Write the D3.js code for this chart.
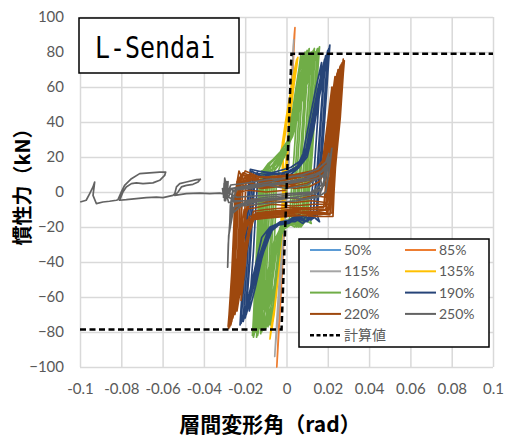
<!DOCTYPE html>
<html>
<head>
<meta charset="utf-8">
<script src="https://cdn.jsdelivr.net/npm/d3@7"></script>
<style>
  body { margin: 0; background: #fff; }
  svg text { font-family: Lato, "Noto Sans", sans-serif; }
</style>
</head>
<body>
<svg id="chart" width="510" height="439"></svg>
<script>
// ---- data (x: rad, y: kN) ----
var xTicks = [-0.1, -0.08, -0.06, -0.04, -0.02, 0, 0.02, 0.04, 0.06, 0.08, 0.1];
var xTickLabels = ['-0.1', '-0.08', '-0.06', '-0.04', '-0.02', '0', '0.02', '0.04', '0.06', '0.08', '0.1'];
var yTicks = [-100, -80, -60, -40, -20, 0, 20, 40, 60, 80, 100];

var seriesNames = ['50%', '85%', '115%', '135%', '160%', '190%', '220%', '250%'];
var seriesColors = ['#5B9BD5', '#ED7D31', '#A5A5A5', '#FFC000', '#70AD47', '#264478', '#9E480E', '#636363'];

var s50 = [[0, 0], [0.0006, 10], [0.0012, 22], [0.0009, 15], [0.0002, 2], [-0.0005, -10], [-0.0012, -22],
  [-0.0009, -15], [-0.0002, -2], [0, 0]];

var s85 = [[0, 0], [0.001, 25], [0.002, 50], [0.003, 75], [0.0038, 90], [0.0041, 94], [0.0036, 82], [0.002, 45],
  [0.0005, 8], [-0.001, -20], [-0.0025, -55], [-0.0038, -82], [-0.0047, -100], [-0.0042, -88], [-0.0028, -55],
  [-0.001, -15], [0, 0]];

var s115 = [[0, 0], [0.0012, 25], [0.0022, 50], [0.003, 72], [0.0035, 87], [0.0032, 80], [0.0025, 55], [0.001, 15],
  [-0.0008, -15], [-0.0025, -45], [-0.004, -70], [-0.0055, -90], [-0.0057, -94], [-0.005, -80], [-0.0035, -50],
  [-0.0015, -15], [0, 0]];

var s135 = [[0, 0], [-0.001, 10], [-0.002, 22], [-0.0015, 30], [0.0, 42], [0.002, 56], [0.004, 70], [0.0055, 77],
  [0.005, 72], [0.0035, 60], [0.002, 44], [0.0008, 26], [-0.0005, 5], [-0.0015, -15], [-0.003, -30], [-0.0045, -50],
  [-0.006, -66], [-0.0075, -80], [-0.008, -84], [-0.0075, -78], [-0.006, -62], [-0.0045, -44], [-0.003, -24],
  [-0.002, -5], [-0.0015, 12],
  [-0.0025, 24], [-0.001, 34], [0.001, 48], [0.003, 62], [0.0048, 74], [0.0042, 68], [0.0025, 52], [0.001, 32],
  [0.0, 12], [-0.001, -10], [-0.0025, -28], [-0.004, -46], [-0.0055, -64], [-0.007, -78], [-0.0066, -72],
  [-0.0052, -56], [-0.0038, -38], [-0.0025, -18], [-0.0015, 0], [-0.002, 15],
  [-0.0015, 26], [0.0, 38], [0.0015, 50], [0.0035, 66], [0.003, 60], [0.0015, 44], [0.0, 22], [-0.001, 0],
  [-0.002, -20], [-0.0035, -40], [-0.005, -58], [-0.0065, -74], [-0.006, -66], [-0.0045, -48], [-0.003, -28],
  [-0.0015, -8], [-0.002, 10],
  [-0.002, 28], [-0.0005, 40], [0.0015, 54], [0.0032, 66], [0.005, 76], [0.0045, 70], [0.0028, 56], [0.0012, 38],
  [-0.0002, 16], [-0.0012, -8], [-0.0028, -32], [-0.0045, -54], [-0.006, -70], [-0.0078, -82], [-0.0072, -74],
  [-0.0058, -58], [-0.0042, -40], [-0.0028, -20], [-0.0018, -2], [0, 0]];

var s160 = [[0, 0], [-0.004, 12], [-0.002, 18], [0.0, 24], [0.002, 38], [0.004, 55], [0.006, 70], [0.007, 79],
  [0.0065, 70], [0.005, 45], [0.0035, 18], [0.002, -5], [0.0015, -15], [0.0, -18], [-0.002, -20], [-0.003, -30],
  [-0.005, -50], [-0.0065, -65], [-0.008, -76], [-0.0075, -66], [-0.0065, -42], [-0.0055, -18], [-0.005, 2], [-0.006, 12],
  [-0.004, 15], [-0.001, 20], [0.001, 26], [0.003, 40], [0.006, 60], [0.009, 80], [0.0085, 72], [0.007, 46],
  [0.0055, 18], [0.004, -4], [0.0035, -16], [0.001, -17], [-0.002, -20], [-0.004, -26], [-0.006, -44], [-0.008, -62],
  [-0.010, -78], [-0.0095, -68], [-0.0085, -44], [-0.0075, -18], [-0.007, 4], [-0.008, 14],
  [-0.005, 17], [-0.002, 22], [0.001, 28], [0.004, 44], [0.008, 66], [0.011, 82], [0.0105, 74], [0.009, 48],
  [0.0075, 20], [0.006, -2], [0.0055, -15], [0.003, -19], [0.0, -17], [-0.003, -21], [-0.005, -28], [-0.008, -48],
  [-0.010, -64], [-0.012, -80], [-0.0115, -70], [-0.0105, -46], [-0.0095, -20], [-0.009, 2], [-0.010, 13],
  [-0.007, 15], [-0.004, 20], [0.0, 24], [0.003, 34], [0.006, 50], [0.010, 68], [0.013, 81], [0.0125, 72],
  [0.011, 46], [0.0095, 18], [0.008, -4], [0.0075, -16], [0.005, -20], [0.002, -16], [-0.001, -20], [-0.004, -24],
  [-0.007, -40], [-0.010, -58], [-0.014, -82], [-0.0135, -72], [-0.0125, -48], [-0.0115, -22], [-0.011, 0], [-0.0115, 12],
  [-0.009, 16], [-0.006, 19], [-0.002, 22], [0.002, 30], [0.006, 48], [0.010, 64], [0.013, 75], [0.015, 82],
  [0.0145, 74], [0.013, 48], [0.0115, 20], [0.010, -2], [0.0095, -14], [0.007, -18], [0.004, -15], [0.001, -19],
  [-0.003, -21], [-0.006, -28], [-0.009, -46], [-0.012, -62], [-0.016, -83], [-0.0155, -74], [-0.0145, -50],
  [-0.0135, -24], [-0.013, -2], [-0.012, 12],
  [-0.008, 14], [-0.005, 18], [-0.001, 23], [0.003, 32], [0.007, 50], [0.011, 66], [0.014, 76], [0.016, 83],
  [0.0155, 75], [0.014, 50], [0.0125, 22], [0.011, 0], [0.0105, -12], [0.012, -18], [0.009, -16], [0.006, -20],
  [0.003, -17], [0.0, -20], [-0.003, -22], [-0.007, -34], [-0.010, -52], [-0.013, -68], [-0.0165, -82], [-0.016, -72],
  [-0.015, -46], [-0.014, -20], [-0.0135, 0], [-0.012, 10],
  [-0.007, 13], [-0.003, 19], [0.0, 25], [0.004, 40], [0.008, 58], [0.011, 70], [0.014, 80], [0.0135, 72],
  [0.012, 46], [0.0105, 18], [0.009, -4], [0.0085, -15], [0.006, -19], [0.002, -18], [-0.002, -21], [-0.005, -30],
  [-0.008, -48], [-0.011, -62], [-0.015, -80], [-0.0145, -70], [-0.0135, -46], [-0.0125, -20], [-0.012, 2], [-0.011, 11],
  [-0.006, 16], [-0.003, 21], [0.001, 27], [0.005, 46], [0.009, 64], [0.012, 78], [0.0115, 70], [0.010, 44],
  [0.0085, 16], [0.007, -3], [0.0065, -14], [0.004, -18], [0.0, -16], [-0.003, -20], [-0.006, -32], [-0.009, -52],
  [-0.013, -78], [-0.0125, -68], [-0.0115, -42], [-0.0105, -16], [-0.010, 4], [-0.008, 12],
  [-0.005, 14], [-0.002, 20], [0.0005, 26], [0.003, 44], [0.006, 66], [0.008, 79], [0.0075, 70], [0.006, 44],
  [0.0045, 16], [0.003, -6], [0.0025, -16], [0.0, -19], [-0.002, -22], [-0.004, -34], [-0.006, -54], [-0.009, -77],
  [-0.0085, -66], [-0.0075, -40], [-0.0065, -14], [-0.006, 4], [-0.007, 13],
  [-0.006, 17], [-0.003, 21], [0.0, 26], [0.003, 40], [0.007, 64], [0.010, 81], [0.0095, 72], [0.008, 44],
  [0.0065, 16], [0.005, -4], [0.0045, -15], [0.002, -18], [-0.001, -21], [-0.004, -28], [-0.007, -50], [-0.009, -66],
  [-0.011, -79], [-0.0105, -68], [-0.0095, -42], [-0.0085, -16], [-0.008, 4], [-0.009, 14],
  [-0.007, 18], [-0.003, 23], [0.001, 30], [0.005, 50], [0.009, 70], [0.012, 80], [0.0115, 72], [0.010, 46],
  [0.0085, 18], [0.007, -2], [0.0065, -15], [0.004, -20], [0.001, -18], [-0.002, -22], [-0.005, -34], [-0.008, -54],
  [-0.0125, -81], [-0.012, -70], [-0.011, -44], [-0.010, -18], [-0.0095, 2], [-0.0105, 13],
  [-0.008, 16], [-0.004, 21], [0.0, 26], [0.004, 42], [0.008, 60], [0.012, 74], [0.015, 80], [0.0145, 72],
  [0.013, 46], [0.0115, 18], [0.010, -4], [0.0095, -16], [0.007, -20], [0.003, -18], [-0.001, -21], [-0.004, -26],
  [-0.008, -46], [-0.012, -66], [-0.0155, -80], [-0.015, -70], [-0.014, -44], [-0.013, -18], [-0.0125, 2], [-0.0115, 12],
  [-0.009, 15], [-0.005, 20], [-0.001, 24], [0.003, 38], [0.007, 58], [0.011, 74], [0.0135, 82], [0.013, 74],
  [0.0115, 48], [0.010, 20], [0.0085, -2], [0.008, -14], [0.0055, -19], [0.002, -17], [-0.002, -21], [-0.005, -28],
  [-0.009, -50], [-0.012, -68], [-0.0145, -83], [-0.014, -72], [-0.013, -46], [-0.012, -20], [-0.0115, 0],
  [-0.010, 10], [-0.004, 8], [0, 4]];

var s190 = [[0.0, 8], [0.006, 14], [0.010, 20], [0.013, 35], [0.016, 55], [0.019, 72], [0.021, 84], [0.0205, 76],
  [0.019, 50], [0.0175, 25], [0.016, 5], [0.015, -10], [0.013, -15], [0.011, -12], [0.008, -16], [0.004, -14],
  [0.0, -17], [-0.004, -18], [-0.008, -20], [-0.012, -26], [-0.015, -42], [-0.018, -58], [-0.022, -75],
  [-0.0215, -66], [-0.020, -42], [-0.019, -20], [-0.018, 0], [-0.017, 12], [-0.012, 9], [-0.006, 10],
  [0.002, 12], [0.007, 16], [0.010, 24], [0.013, 42], [0.016, 60], [0.019, 78], [0.0185, 70], [0.017, 45],
  [0.0155, 18], [0.014, 0], [0.013, -12], [0.010, -15], [0.006, -13], [0.002, -16], [-0.003, -17], [-0.008, -21],
  [-0.012, -34], [-0.016, -52], [-0.020, -72], [-0.0195, -62], [-0.018, -38], [-0.017, -16], [-0.016, 4],
  [-0.015, 10], [-0.008, 8],
  [0.0, 10], [0.005, 14], [0.008, 22], [0.011, 40], [0.014, 58], [0.017, 74], [0.0165, 66], [0.015, 40],
  [0.0135, 14], [0.012, -4], [0.0115, -14], [0.008, -18], [0.004, -15], [0.0, -18], [-0.005, -19], [-0.009, -24],
  [-0.012, -38], [-0.015, -54], [-0.018, -68], [-0.0175, -58], [-0.016, -34], [-0.015, -12], [-0.014, 6],
  [-0.010, 8], [-0.004, 9],
  [0.003, 13], [0.008, 17], [0.011, 26], [0.014, 45], [0.017, 64], [0.020, 81], [0.0195, 72], [0.018, 46],
  [0.0165, 20], [0.015, 0], [0.0145, -12], [0.016, -17], [0.013, -14], [0.009, -17], [0.005, -15], [0.001, -18],
  [-0.004, -19], [-0.009, -22], [-0.013, -36], [-0.017, -56], [-0.021, -74], [-0.0205, -64], [-0.019, -40],
  [-0.018, -18], [-0.017, 2], [-0.016, 11], [-0.010, 10], [-0.002, 11],
  [0.001, 12], [0.006, 15], [0.009, 22], [0.012, 40], [0.015, 58], [0.0185, 76], [0.018, 68], [0.0165, 42],
  [0.015, 16], [0.0135, -2], [0.013, -13], [0.010, -17], [0.006, -14], [0.002, -17], [-0.003, -18], [-0.007, -22],
  [-0.011, -34], [-0.015, -50], [-0.0195, -70], [-0.019, -60], [-0.0175, -36], [-0.0165, -14], [-0.0155, 5],
  [-0.014, 12], [-0.007, 11],
  [0.002, 14], [0.007, 18], [0.0105, 28], [0.0135, 46], [0.017, 66], [0.0205, 82], [0.020, 74], [0.0185, 48],
  [0.017, 22], [0.0155, 2], [0.015, -12], [0.012, -16], [0.008, -14], [0.004, -17], [-0.001, -17], [-0.006, -20],
  [-0.010, -28], [-0.014, -44], [-0.018, -60], [-0.0225, -76], [-0.022, -66], [-0.0205, -42], [-0.0195, -18],
  [-0.0185, 2], [-0.0175, 13], [-0.010, 11], [0, 9]];

var s220 = [[0.0, 2], [0.008, 7], [0.015, 11], [0.019, 16], [0.021, 30], [0.023, 48], [0.025, 62], [0.027, 74],
  [0.0265, 66], [0.025, 45], [0.0235, 22], [0.022, 3], [0.021, -10], [0.015, -11], [0.005, -12], [-0.005, -13],
  [-0.014, -14], [-0.019, -16], [-0.021, -28], [-0.024, -50], [-0.026, -65], [-0.028, -78], [-0.0275, -68],
  [-0.026, -42], [-0.025, -18], [-0.0245, 2], [-0.022, 10], [-0.015, 8], [-0.006, 9],
  [0.004, 10], [0.012, 12], [0.018, 15], [0.020, 28], [0.022, 45], [0.024, 60], [0.026, 72], [0.0255, 64],
  [0.024, 40], [0.0225, 15], [0.021, -2], [0.020, -12], [0.012, -13], [0.0, -14], [-0.010, -15], [-0.017, -16],
  [-0.020, -30], [-0.023, -52], [-0.025, -66], [-0.027, -76], [-0.0265, -66], [-0.025, -38], [-0.024, -12],
  [-0.023, 4], [-0.020, 12], [-0.014, 9], [-0.006, 8],
  [0.002, 9], [0.010, 11], [0.017, 13], [0.020, 22], [0.023, 42], [0.026, 62], [0.028, 75], [0.0275, 68],
  [0.026, 42], [0.024, 18], [0.0225, -2], [0.022, -12], [0.016, -13], [0.006, -12], [-0.004, -12], [-0.013, -13],
  [-0.018, -14], [-0.022, -32], [-0.025, -58], [-0.0275, -77], [-0.027, -68], [-0.0255, -40], [-0.0245, -14],
  [-0.024, 3], [-0.022, 8], [-0.012, 6], [-0.002, 7],
  [0.006, 9], [0.014, 11], [0.018, 14], [0.020, 30], [0.022, 48], [0.025, 70], [0.0245, 62], [0.023, 38],
  [0.0215, 12], [0.020, -4], [0.019, -10], [0.010, -10], [0.0, -11], [-0.010, -12], [-0.016, -13], [-0.019, -26],
  [-0.022, -48], [-0.026, -72], [-0.0255, -62], [-0.0245, -35], [-0.0235, -10], [-0.0225, 3], [-0.020, 9],
  [-0.012, 5], [-0.003, 5],
  [0.006, 6], [0.013, 9], [0.017, 12], [0.019, 26], [0.021, 44], [0.0235, 66], [0.023, 58], [0.0215, 30],
  [0.020, 6], [0.019, -8], [0.012, -9], [0.002, -10], [-0.008, -11], [-0.015, -12], [-0.018, -24], [-0.021, -46],
  [-0.024, -68], [-0.0235, -56], [-0.0225, -30], [-0.0215, -6], [-0.021, 6], [-0.016, 7], [-0.006, 4],
  [0.004, 6], [0.012, 8], [0.018, 11], [0.021, 24], [0.024, 46], [0.026, 62], [0.0275, 76], [0.027, 70],
  [0.0255, 46], [0.024, 20], [0.023, 0], [0.0225, -14], [0.014, -14], [0.004, -13], [-0.006, -14], [-0.015, -15],
  [-0.020, -18], [-0.023, -36], [-0.026, -60], [-0.0283, -77], [-0.0278, -70], [-0.0265, -46], [-0.0255, -20],
  [-0.025, -2], [-0.023, 12], [-0.021, 7], [-0.012, 3], [-0.004, 3],
  [0.001, 4], [0.009, 8], [0.016, 12], [0.0195, 20], [0.022, 38], [0.0245, 58], [0.0265, 73], [0.026, 64],
  [0.0245, 38], [0.023, 12], [0.0215, -6], [0.021, -13], [0.013, -12], [0.003, -11], [-0.007, -12], [-0.016, -14],
  [-0.0205, -22], [-0.0235, -44], [-0.0265, -74], [-0.026, -64], [-0.025, -36], [-0.0245, -10], [-0.024, 6],
  [-0.021, 11], [-0.013, 7], [-0.004, 6],
  [0.005, 8], [0.013, 10], [0.0175, 14], [0.0195, 24], [0.022, 46], [0.0245, 68], [0.024, 60], [0.0225, 34],
  [0.021, 8], [0.0195, -6], [0.0195, -12], [0.011, -11], [0.001, -12], [-0.009, -13], [-0.017, -15], [-0.0195, -28],
  [-0.022, -50], [-0.025, -70], [-0.0245, -60], [-0.0235, -32], [-0.0225, -8], [-0.022, 5], [-0.019, 10],
  [-0.010, 8], [-0.001, 9],
  [0.007, 10], [0.014, 12], [0.0175, 18], [0.0195, 36], [0.022, 60], [0.0215, 50], [0.020, 26], [0.019, 4],
  [0.018, -9], [0.010, -9], [0.0, -9], [-0.010, -10], [-0.016, -11], [-0.0185, -22], [-0.020, -42], [-0.022, -62],
  [-0.0215, -50], [-0.0205, -26], [-0.020, -4], [-0.0195, 8], [-0.012, 7], [-0.004, 4],
  [0.002, 3], [0.010, 5], [0.016, 8], [0.019, 14], [0.021, 32], [0.0235, 54], [0.0255, 70], [0.025, 62],
  [0.0235, 36], [0.022, 10], [0.0205, -2], [0.019, -6], [0.012, -5], [0.004, -6], [-0.006, -5], [-0.014, -7],
  [-0.019, -8], [-0.021, -20], [-0.0235, -42], [-0.0265, -73], [-0.026, -62], [-0.025, -34], [-0.0245, -8],
  [-0.024, 2], [-0.020, 4], [-0.012, 2], [-0.004, 3],
  [0.005, 5], [0.012, 7], [0.0175, 10], [0.020, 20], [0.0225, 42], [0.0268, 72], [0.0262, 64], [0.0248, 40],
  [0.0232, 14], [0.0215, -2], [0.0205, -7], [0.013, -7], [0.003, -8], [-0.007, -7], [-0.015, -9], [-0.0205, -10],
  [-0.0225, -26], [-0.025, -50], [-0.0272, -75], [-0.0267, -64], [-0.0255, -36], [-0.025, -10], [-0.0248, 1],
  [-0.022, 6], [-0.014, 4], [-0.006, 5],
  [0.004, 2], [0.011, 3], [0.016, 6], [0.0185, 12], [0.0205, 34], [0.0235, 64], [0.023, 55], [0.0215, 30],
  [0.020, 6], [0.019, -3], [0.013, -2], [0.006, -4], [-0.002, -3], [-0.010, -5], [-0.017, -4], [-0.0195, -12],
  [-0.0215, -34], [-0.0245, -66], [-0.024, -54], [-0.023, -28], [-0.0225, -6], [-0.023, 0], [-0.018, 1],
  [-0.010, 0], [0, 1]];

var s250 = [[-0.0999, -5.7], [-0.0970, -4.7], [-0.0953, -0.95], [-0.0937, 2.9], [-0.0929, 5.7], [-0.0937, -1.9],
  [-0.0921, -6.6], [-0.0889, -5.7], [-0.0857, -5.3], [-0.0824, -4.7], [-0.0816, -4.4], [-0.0800, 0], [-0.0784, 3.8],
  [-0.0751, 7.6], [-0.0711, 10.5], [-0.0663, 10.9], [-0.0614, 11.4], [-0.0585, 11.4], [-0.0590, 9.5], [-0.0614, 6.7],
  [-0.0647, 5.2], [-0.0695, 4.8], [-0.0727, 5.2], [-0.0751, 4.8], [-0.0776, 2.9], [-0.0792, 0], [-0.0808, -4.7],
  [-0.0776, -4.4], [-0.0727, -3.8], [-0.0679, -3.2], [-0.0630, -2.9], [-0.0598, -3.2], [-0.0550, -1.9],
  [-0.0541, -0.95], [-0.0533, 2.9], [-0.0517, 4.8], [-0.0485, 5.7], [-0.0436, 7.1], [-0.0417, 7.3], [-0.0428, 5.7],
  [-0.0453, 4.4], [-0.0485, 3.8], [-0.0509, 2.9], [-0.0525, 0], [-0.0541, -1.9], [-0.0485, -0.95], [-0.0420, -0.6],
  [-0.0372, -0.95], [-0.0323, -0.6], [-0.0299, -1.3],
  [-0.0305, -2], [-0.031, 2], [-0.0305, -1], [-0.0295, 3], [-0.0288, -2], [-0.0283, 6], [-0.0287, -3], [-0.029, 4],
  [-0.0295, -5], [-0.0299, 8], [-0.0305, -3], [-0.0302, 5], [-0.030, -5], [-0.0297, 7], [-0.0293, -4], [-0.029, 6],
  [-0.0285, 0],
  [-0.026, 2], [-0.02, 3], [-0.01, 4], [0, 2], [0.01, 4], [0.018, 10], [0.021, 18], [0.022, 25], [0.021, 15],
  [0.019, 0], [0.015, -3], [0.005, -5], [-0.005, -6], [-0.015, -7], [-0.022, -8], [-0.026, -12], [-0.028, -25],
  [-0.0285, -43], [-0.0282, -30], [-0.027, -10], [-0.026, 0], [-0.022, 3], [-0.012, 4], [0, 6],
  [0.01, 8], [0.017, 12], [0.019, 15], [0.018, 5], [0.016, -2], [0.008, -4], [0, -3], [-0.01, -4], [-0.02, -6],
  [-0.025, -8], [-0.027, -15], [-0.026, -5], [-0.024, 2], [-0.015, 3], [-0.005, 5],
  [0.005, 6], [0.014, 9], [0.02, 14], [0.021, 20], [0.019, 8], [0.017, 1], [0.01, -1], [0, -2], [-0.01, -3],
  [-0.02, -5], [-0.028, -6], [-0.029, -2], [-0.027, 4], [-0.02, 5], [-0.01, 7], [0, 8],
  [0.008, 10], [0.015, 13], [0.019, 17], [0.0205, 22], [0.019, 10], [0.017, 2], [0.009, -2], [-0.001, -4],
  [-0.011, -5], [-0.021, -7], [-0.026, -9], [-0.0275, -20], [-0.0272, -8], [-0.026, 1], [-0.018, 2], [-0.008, 4],
  [0.002, 5], [0.012, 7], [0.018, 9], [0.0185, 4], [0.014, -1], [0.004, -3], [-0.006, -4], [-0.016, -5],
  [-0.025, -5], [-0.028, -3], [-0.027, 2], [-0.017, 4], [-0.007, 6], [0.003, 9],
  [0.01, 9], [0.016, 11], [0.017, 4], [0.012, 0], [0, -1], [-0.012, -2], [-0.024, -3], [-0.029, 0]];

var calcName = '計算値';
var calc = [[-0.1, -78.5], [-0.0024, -78.5], [0.0024, 79], [0.1, 79]];

var seriesData = [s50, s85, s115, s135, s160, s190, s220, s250];

// ---- layout ----
var svg = d3.select('#chart');
var plotLeft = 80, plotRight = 493, plotTop = 17, plotBottom = 367;

var x = d3.scaleLinear().domain([-0.1, 0.1]).range([plotLeft, plotRight]);
var y = d3.scaleLinear().domain([-100, 100]).range([plotBottom, plotTop]);

// gridlines + tick labels
var xAxis = svg.append('g')
    .attr('transform', 'translate(0,' + plotBottom + ')')
    .call(d3.axisBottom(x)
        .tickValues(xTicks)
        .tickFormat(function(d, i) { return xTickLabels[i]; })
        .tickSize(-(plotBottom - plotTop))
        .tickPadding(16));

var yAxis = svg.append('g')
    .attr('transform', 'translate(' + plotLeft + ',0)')
    .call(d3.axisLeft(y)
        .tickValues(yTicks)
        .tickSize(-(plotRight - plotLeft))
        .tickPadding(16));

[xAxis, yAxis].forEach(function(ax) {
    ax.select('.domain').remove();
    ax.selectAll('.tick line').attr('stroke', '#D9D9D9').attr('stroke-width', 1.5);
    ax.selectAll('.tick text')
        .attr('fill', '#595959')
        .style('font-size', '15px')
        .style('font-family', 'Lato, sans-serif');
});

// series
var line = d3.line()
    .x(function(d) { return x(d[0]); })
    .y(function(d) { return y(d[1]); });

svg.append('g').selectAll('path')
    .data(seriesData)
    .enter().append('path')
        .attr('d', line)
        .attr('fill', 'none')
        .attr('stroke', function(d, i) { return seriesColors[i]; })
        .attr('stroke-width', 1.7)
        .attr('stroke-linejoin', 'round');

svg.append('path')
    .attr('d', line(calc))
    .attr('fill', 'none')
    .attr('stroke', '#000')
    .attr('stroke-width', 2.5)
    .attr('stroke-dasharray', '6,3.5');

// title box
svg.append('rect')
    .attr('x', 79).attr('y', 18).attr('width', 160).attr('height', 55)
    .attr('fill', '#fff').attr('stroke', '#000').attr('stroke-width', 1.5);
svg.append('text')
    .attr('x', 95).attr('y', 58)
    .attr('textLength', 120).attr('lengthAdjust', 'spacingAndGlyphs')
    .style('font-family', '"DejaVu Sans Mono", monospace')
    .style('font-size', '31px')
    .attr('fill', '#000')
    .text('L-Sendai');

// legend
var legend = svg.append('g');
legend.append('rect')
    .attr('x', 299).attr('y', 239).attr('width', 190).attr('height', 108)
    .attr('fill', '#fff').attr('stroke', '#000').attr('stroke-width', 1.5);

var legendItems = seriesNames.map(function(n, i) {
    return { name: n, color: seriesColors[i], col: i % 2, row: Math.floor(i / 2), dash: null };
});
legendItems.push({ name: calcName, color: '#000', col: 0, row: 4, dash: '4,2.5' });

var item = legend.selectAll('.item')
    .data(legendItems)
    .enter().append('g')
        .attr('class', 'item')
        .attr('transform', function(d) {
            return 'translate(' + (310 + d.col * 95) + ',' + (250 + d.row * 21.3) + ')';
        });

item.append('line')
    .attr('x1', 0).attr('x2', 31)
    .attr('stroke', function(d) { return d.color; })
    .attr('stroke-width', function(d) { return d.dash ? 2.5 : 2; })
    .attr('stroke-dasharray', function(d) { return d.dash; });

item.append('text')
    .attr('x', 34).attr('dy', '0.35em')
    .attr('fill', '#595959')
    .style('font-size', '14px')
    .style('font-family', function(d) { return d.dash ? '"Noto Sans CJK JP", sans-serif' : 'Lato, sans-serif'; })
    .text(function(d) { return d.name; });

// axis titles
svg.append('text')
    .attr('transform', 'translate(30,182) rotate(-90)')
    .attr('text-anchor', 'middle')
    .style('font-family', '"Noto Sans CJK JP", sans-serif')
    .style('font-size', '20px')
    .style('font-weight', 'bold')
    .attr('fill', '#000')
    .text('慣性力（kN）');

svg.append('text')
    .attr('x', 270).attr('y', 432)
    .attr('text-anchor', 'middle')
    .style('font-family', '"Noto Sans CJK JP", sans-serif')
    .style('font-size', '21px')
    .style('font-weight', 'bold')
    .attr('fill', '#000')
    .text('層間変形角（rad）');
</script>
</body>
</html>
